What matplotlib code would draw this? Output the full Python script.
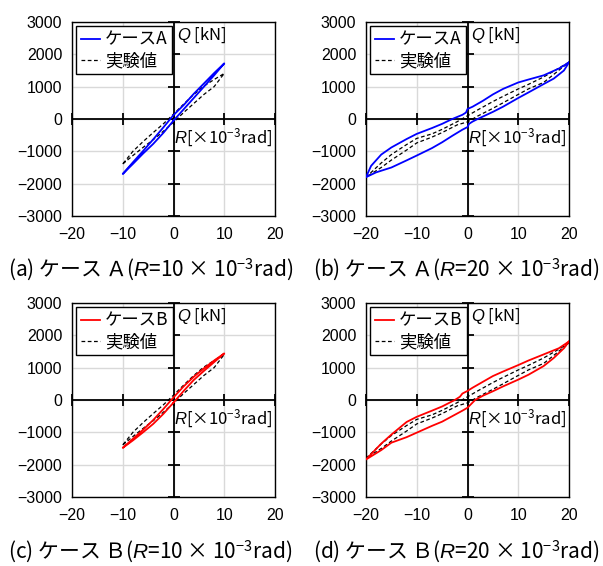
import numpy as np
import matplotlib
matplotlib.use("Agg")
import matplotlib.pyplot as plt

plt.rcParams['font.family'] = ['Noto Sans CJK JP', 'DejaVu Sans']
plt.rcParams['mathtext.fontset'] = 'custom'
plt.rcParams['mathtext.rm'] = 'Noto Sans CJK JP'
plt.rcParams['mathtext.it'] = 'Liberation Sans:italic'

# --- data (R [x10^-3 rad], Q [kN]) ---
# case A, R = 10
a10_R = [0, 2, 4, 6, 8, 10, 8, 6, 4, 2, 0, -2, -4, -6, -8, -10, -8, -6, -4, -2, 0]
a10_Q = [-50, 300, 650, 1000, 1350, 1720, 1420, 1100, 780, 430, 120, -260, -630, -990, -1340, -1700,
         -1390, -1070, -770, -430, -50]
# case B, R = 10
b10_R = [0, 2, 4, 6, 8, 10, 8, 6, 4, 2, 0, -2, -4, -6, -8, -10, -8, -6, -4, -2, 0]
b10_Q = [-80, 280, 620, 900, 1170, 1440, 1220, 980, 720, 420, 80, -280, -620, -920, -1200, -1480,
         -1250, -1000, -740, -430, -80]
# experiment, R = 10
e10_R = [-10, -8, -6, -4, -2, 0, 2, 4, 6, 8, 10, 8, 6, 4, 2, 0, -2, -4, -6, -8, -10]
e10_Q = [-1390, -1130, -880, -640, -380, -100, 200, 480, 760, 1000, 1410, 1220, 1020, 760, 460, 150,
         -150, -420, -700, -1000, -1390]

# case A, R = 20
a20_R = [20, 18, 15, 12, 10, 7, 5, 3, 1, 0, -0.3, -1, -3, -5, -7, -10, -12, -15, -17, -19, -20,
         -18, -15, -12, -10, -7, -5, -3, -1, 0, 0.3, 1, 2, 5, 7, 10, 12, 15, 17, 19, 20]
a20_Q = [1750, 1560, 1350, 1220, 1130, 930, 760, 560, 380, 310, 200, 130, 0, -150, -280, -460, -620,
         -880, -1100, -1450, -1800,
         -1650, -1500, -1280, -1130, -900, -720, -520, -330, -250, -150, -80, 0, 220, 380, 650, 820,
         1080, 1250, 1500, 1750]
# case B, R = 20
b20_R = [20, 18, 15, 12, 10, 7, 5, 3, 1, 0, -1, -1.5, -2.5, -5, -7, -10, -12, -15, -17, -20,
         -17, -15, -12, -10, -7, -5, -3, -1, 0, 1.5, 3, 5, 7, 10, 12, 15, 17, 19, 20]
b20_Q = [1810, 1600, 1410, 1220, 1080, 880, 740, 560, 380, 280, 200, 100, 0, -200, -330, -520, -680,
         -1070, -1350, -1840,
         -1550, -1320, -1150, -1010, -800, -670, -500, -330, -240, 0, 130, 270, 420, 630, 780, 1050,
         1300, 1600, 1810]
# experiment, R = 20
e20_R = [20, 17, 15, 12, 10, 7, 5, 2, 0, -2, -5, -7, -10, -12, -15, -17, -20,
         -17, -15, -12, -10, -7, -5, -2, 0, 2, 5, 7, 10, 12, 15, 17, 20]
e20_Q = [1760, 1480, 1300, 1070, 930, 700, 540, 280, 100, -80, -320, -460, -600, -790, -1100, -1360,
         -1800,
         -1500, -1270, -960, -740, -560, -420, -180, -90, 90, 330, 500, 760, 930, 1130, 1380, 1760]

xticks = [-20, -10, 0, 10, 20]
yticks = [-3000, -2000, -1000, 0, 1000, 2000, 3000]
xlabels = ['−20', '−10', '0', '10', '20']
ylabels = ['−3000', '−2000', '−1000', '0', '1000', '2000', '3000']

panels = [
    dict(R=a10_R, Q=a10_Q, eR=e10_R, eQ=e10_Q, color='#0000ff', name='ケースA',
         cap='(a) ケース Ａ($\\mathit{R}$=10 × 10$^{-3}$rad)', pos=[72, 22], capx=8, capy=270),
    dict(R=a20_R, Q=a20_Q, eR=e20_R, eQ=e20_Q, color='#0000ff', name='ケースA',
         cap='(b) ケース Ａ($\\mathit{R}$=20 × 10$^{-3}$rad)', pos=[366, 22], capx=313, capy=270),
    dict(R=b10_R, Q=b10_Q, eR=e10_R, eQ=e10_Q, color='#ff0000', name='ケースB',
         cap='(c) ケース Ｂ($\\mathit{R}$=10 × 10$^{-3}$rad)', pos=[72, 303], capx=8, capy=552),
    dict(R=b20_R, Q=b20_Q, eR=e20_R, eQ=e20_Q, color='#ff0000', name='ケースB',
         cap='(d) ケース Ｂ($\\mathit{R}$=20 × 10$^{-3}$rad)', pos=[366, 303], capx=313, capy=552),
]

W, H = 603, 566
fig = plt.figure(figsize=(W / 100, H / 100), dpi=100)

for p in panels:
    x0, y0 = p['pos']
    aw, ah = 203, 194
    ax = fig.add_axes([x0 / W, 1 - (y0 + ah) / H, aw / W, ah / H])
    ax.set_xlim(-20, 20)
    ax.set_ylim(-3000, 3000)
    ax.set_xticks(xticks)
    ax.set_yticks(yticks)
    ax.set_xticklabels(xlabels, fontfamily='Liberation Sans', fontsize=11.5)
    ax.set_yticklabels(ylabels, fontfamily='Liberation Sans', fontsize=11.5)
    ax.tick_params(axis='x', length=0, pad=8)
    ax.tick_params(axis='y', length=0, pad=7)
    ax.grid(True, color='#d9d9d9', lw=1)
    ax.set_axisbelow(True)
    for s in ax.spines.values():
        s.set_color('black')
        s.set_linewidth(1)

    # centre axes with cross ticks
    ax.axhline(0, color='black', lw=1.3, zorder=2)
    ax.axvline(0, color='black', lw=1.3, zorder=2)
    ax.plot(xticks, [0] * len(xticks), ls='none', marker='|', ms=9, mew=1.3, color='black',
            zorder=2, clip_on=False)
    ax.plot([0] * len(yticks), yticks, ls='none', marker='_', ms=9, mew=1.3, color='black',
            zorder=2, clip_on=False)

    ax.plot(p['R'], p['Q'], color=p['color'], lw=1.3, label=p['name'], zorder=4)
    ax.plot(p['eR'], p['eQ'], color='black', lw=0.9, ls=(0, (3, 2)), label='実験値', zorder=3)

    leg = ax.legend(loc='upper left', fontsize=12.5, frameon=True, fancybox=False, framealpha=1,
                    edgecolor='black', borderpad=0.25, handlelength=1.1, handletextpad=0.3,
                    labelspacing=0.2, borderaxespad=0.25)
    leg.get_frame().set_linewidth(1)
    leg.set_zorder(6)

    ax.text(0.6, 2880, '$\\mathit{Q}$ [kN]', fontsize=12, va='top', ha='left', zorder=5)
    ax.text(0.1, -230, '$\\mathit{R}$[×10$^{-3}$rad]', fontsize=12, va='top', ha='left', zorder=5)

    fig.text(p['capx'] / W, 1 - p['capy'] / H, p['cap'], fontsize=15, ha='left', va='center')

fig.savefig('out.png', dpi=100)
